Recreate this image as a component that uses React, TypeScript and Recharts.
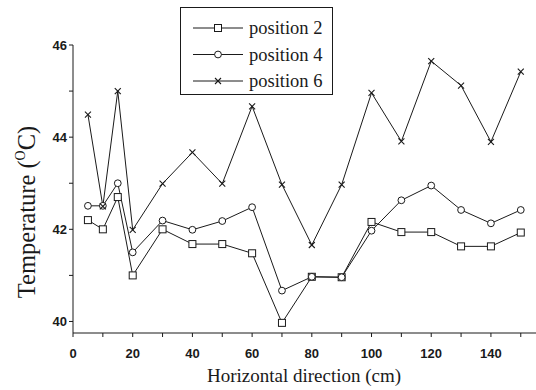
import React from 'react';
import { LineChart, Line, XAxis, YAxis } from 'recharts';

const xPositions = [5, 10, 15, 20, 30, 40, 50, 60, 70, 80, 90, 100, 110, 120, 130, 140, 150];
const position2 = [42.2, 42.0, 42.7, 41.0, 42.0, 41.68, 41.68, 41.48, 39.97, 40.97, 40.96, 42.16, 41.94, 41.94, 41.63, 41.63, 41.93];
const position4 = [42.51, 42.51, 43.0, 41.5, 42.19, 41.99, 42.18, 42.48, 40.67, 40.97, 40.96, 41.97, 42.63, 42.95, 42.42, 42.13, 42.42];
const position6 = [44.49, 42.5, 45.0, 41.99, 42.99, 43.67, 42.99, 44.67, 42.97, 41.66, 42.97, 44.96, 43.91, 45.65, 45.12, 43.9, 45.42];

const seriesNames = ['position 2', 'position 4', 'position 6'];
const xTicks = [0, 10, 20, 30, 40, 50, 60, 70, 80, 90, 100, 110, 120, 130, 140, 150];
const xLabeled = [0, 20, 40, 60, 80, 100, 120, 140];
const yTicks = [40, 41, 42, 43, 44, 45, 46];
const yLabeled = [40, 42, 44, 46];
const xTitle = 'Horizontal direction (cm)';

const data = xPositions.map((x, i) => ({ x, p2: position2[i], p4: position4[i], p6: position6[i] }));

const INK = '#1a1a1a';
const SANS = '"Liberation Sans", Arial, sans-serif';
const SERIF = '"Liberation Serif", "Times New Roman", serif';

const SquareMark = ({ cx, cy }: any) => (
  <rect x={cx - 3.5} y={cy - 3.5} width={7} height={7} fill="#fff" stroke={INK} strokeWidth={1} />
);
const CircleMark = ({ cx, cy }: any) => (
  <circle cx={cx} cy={cy} r={3.4} fill="#fff" stroke={INK} strokeWidth={1} />
);
const CrossMark = ({ cx, cy }: any) => (
  <g stroke={INK} strokeWidth={1.1}>
    <line x1={cx - 3} y1={cy - 3} x2={cx + 3} y2={cy + 3} />
    <line x1={cx - 3} y1={cy + 3} x2={cx + 3} y2={cy - 3} />
  </g>
);
const markers = [SquareMark, CircleMark, CrossMark];

const XTick = ({ x, y, payload }: any) => {
  const v = payload.value;
  return (
    <g>
      <line x1={x} y1={y} x2={x} y2={y + 4} stroke={INK} strokeWidth={1} />
      {xLabeled.includes(v) && (
        <text x={x} y={y + 25} textAnchor="middle" fontFamily={SANS} fontWeight="bold" fontSize={13} fill={INK}>
          {v}
        </text>
      )}
    </g>
  );
};

const YTick = ({ x, y, payload }: any) => {
  const v = payload.value;
  return (
    <g>
      <line x1={x} y1={y} x2={x - 4} y2={y} stroke={INK} strokeWidth={1} />
      {yLabeled.includes(v) && (
        <text x={x - 6} y={y + 5} textAnchor="end" fontFamily={SANS} fontWeight="bold" fontSize={13} fill={INK}>
          {v}
        </text>
      )}
    </g>
  );
};

const XTitle = () => (
  <text x={304} y={382} textAnchor="middle" fontFamily={SERIF} fontSize={19} fill={INK}>
    {xTitle}
  </text>
);

const YTitle = () => (
  <text transform="translate(35,212) rotate(-90)" textAnchor="middle" fontFamily={SERIF} fontSize={24.5} fill={INK}>
    <tspan>Temperature (</tspan>
    <tspan dy={-10} fontSize={14}>O</tspan>
    <tspan dy={10}>C)</tspan>
  </text>
);

const LegendBox = () => (
  <div
    style={{
      position: 'absolute',
      left: 180,
      top: 7,
      border: `1px solid ${INK}`,
      width: 153,
      height: 88,
      background: '#fff',
      boxSizing: 'border-box',
    }}
  >
    <svg width={151} height={86} style={{ display: 'block' }}>
      {seriesNames.map((name, i) => {
        const cy = 20 + i * 26.5;
        const M = markers[i];
        return (
          <g key={name}>
            <line x1={12} y1={cy} x2={62} y2={cy} stroke={INK} strokeWidth={1} />
            <M cx={37} cy={cy} />
            <text x={68} y={cy + 6} fontFamily={SERIF} fontSize={18.5} fill={INK}>
              {name}
            </text>
          </g>
        );
      })}
    </svg>
  </div>
);

export default function App() {
  return (
    <div style={{ position: 'absolute', left: 0, top: 0, width: 536, height: 390, background: '#fff' }}>
      <LineChart width={536} height={390} data={data} margin={{ top: 45, right: 0, left: 0, bottom: 0 }}>
        <XAxis
          type="number"
          dataKey="x"
          domain={[0, 155.1]}
          allowDataOverflow
          ticks={xTicks}
          interval={0}
          height={57}
          tickSize={0}
          tickMargin={0}
          tick={<XTick />}
          axisLine={{ stroke: INK, strokeWidth: 1 }}
          label={<XTitle />}
        />
        <YAxis
          type="number"
          domain={[39.75, 46]}
          allowDataOverflow
          ticks={yTicks}
          interval={0}
          width={73}
          tickSize={0}
          tickMargin={0}
          tick={<YTick />}
          axisLine={{ stroke: INK, strokeWidth: 1 }}
          label={<YTitle />}
        />
        <Line
          name={seriesNames[0]}
          dataKey="p2"
          stroke={INK}
          strokeWidth={1}
          isAnimationActive={false}
          dot={(p: any) => <SquareMark key={`s${p.index}`} cx={p.cx} cy={p.cy} />}
          activeDot={false}
        />
        <Line
          name={seriesNames[1]}
          dataKey="p4"
          stroke={INK}
          strokeWidth={1}
          isAnimationActive={false}
          dot={(p: any) => <CircleMark key={`c${p.index}`} cx={p.cx} cy={p.cy} />}
          activeDot={false}
        />
        <Line
          name={seriesNames[2]}
          dataKey="p6"
          stroke={INK}
          strokeWidth={1}
          isAnimationActive={false}
          dot={(p: any) => <CrossMark key={`x${p.index}`} cx={p.cx} cy={p.cy} />}
          activeDot={false}
        />
      </LineChart>
      <LegendBox />
    </div>
  );
}
